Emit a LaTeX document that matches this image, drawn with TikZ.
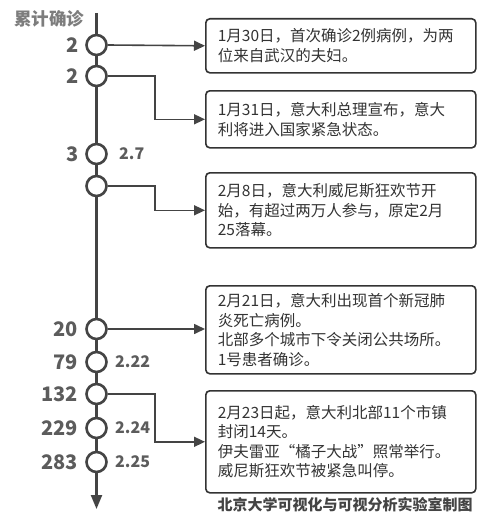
\documentclass[tikz,border=0pt]{standalone}
\usepackage{fontspec}
\setmainfont{Noto Sans CJK SC}
\usetikzlibrary{arrows.meta}
\definecolor{lineGray}{RGB}{68,68,68}
\definecolor{numGray}{RGB}{92,92,92}
\definecolor{textDark}{RGB}{51,51,51}

\begin{document}
\begin{tikzpicture}[x=1pt,y=-1pt,
  event/.style={draw=textDark,rounded corners=4pt,line width=1.6pt,fill=white,text width=246pt,inner xsep=12pt,inner ysep=0pt,anchor=north west,align=left,text=textDark,font=\fontsize{15.5}{19.5}\selectfont},
  dot/.style={circle,draw=lineGray,line width=2.6pt,fill=white,minimum size=20pt,inner sep=0pt},
  total/.style={anchor=east,inner sep=0pt,text=numGray,font=\fontsize{20}{20}\selectfont\bfseries},
  day/.style={anchor=west,inner sep=0pt,text=numGray,font=\fontsize{16}{16}\selectfont\bfseries},
  link/.style={draw=lineGray,line width=1.6pt,-{Triangle[length=11pt,width=10pt]}}]
\useasboundingbox[fill=white] (0,0) rectangle (483,519);

\node[text=numGray!80,font=\fontsize{17.5}{17.5}\selectfont\bfseries] (title) at (49,19) {累计确诊};
\coordinate (axtop) at (96.5,13);
\coordinate (axend) at (96.5,509);
\coordinate (elbow) at (155,0);
\draw[draw=lineGray,line width=2.2pt,-{Triangle[length=14pt,width=11pt]}] (axtop) -- (axend);

\foreach \n/\y in {1/45,2/76,3/154,4/186,5/329,6/362,7/394,8/428,9/462}
  \node[dot] (c\n) at (96.5,\y) {};

\node[total] (t1) at (79,45) {2};
\node[total] (t2) at (79,76) {2};
\node[total] (t3) at (79,154) {3};
\node[total] (t5) at (78,329) {20};
\node[total] (t6) at (78,362) {79};
\node[total] (t7) at (78,394) {132};
\node[total] (t8) at (78,428) {229};
\node[total] (t9) at (78,462) {283};

\node[day] (d3) at (119,154) {2.7};
\node[day] (d6) at (115,362) {2.22};
\node[day] (d8) at (115,428) {2.24};
\node[day] (d9) at (115,462) {2.25};

\node[event,minimum height=54pt] (b1) at (205,18) {1月30日，首次确诊2例病例，为两\\位来自武汉的夫妇。};
\node[event,minimum height=57pt] (b2) at (205,90) {1月31日，意大利总理宣布，意大\\利将进入国家紧急状态。};
\node[event,minimum height=75pt] (b3) at (205,172) {2月8日，意大利威尼斯狂欢节开\\始，有超过两万人参与，原定2月\\25落幕。};
\node[event,minimum height=88pt] (b4) at (205,285) {2月21日，意大利出现首个新冠肺\\炎死亡病例。\\北部多个城市下令关闭公共场所。\\1号患者确诊。};
\node[event,minimum height=102pt] (b5) at (205,390) {2月23日起，意大利北部11个市镇\\封闭14天。\\伊夫雷亚“橘子大战”照常举行。\\威尼斯狂欢节被紧急叫停。};

\draw[link] (c1.east) -- (b1.west);
\draw[link] (c2.east) -- (c2.east -| elbow) |- (b2.west);
\draw[link] (c4.east) -- (c4.east -| elbow) |- (b3.west);
\draw[link] (c5.east) -- (b5.west |- c5.east);
\draw[link] (c7.east) -- (c7.east -| elbow) |- (b5.west);

\node[text=lineGray,font=\fontsize{15}{15}\selectfont\bfseries] (credit) at (345,505) {北京大学可视化与可视分析实验室制图};
\end{tikzpicture}
\end{document}
